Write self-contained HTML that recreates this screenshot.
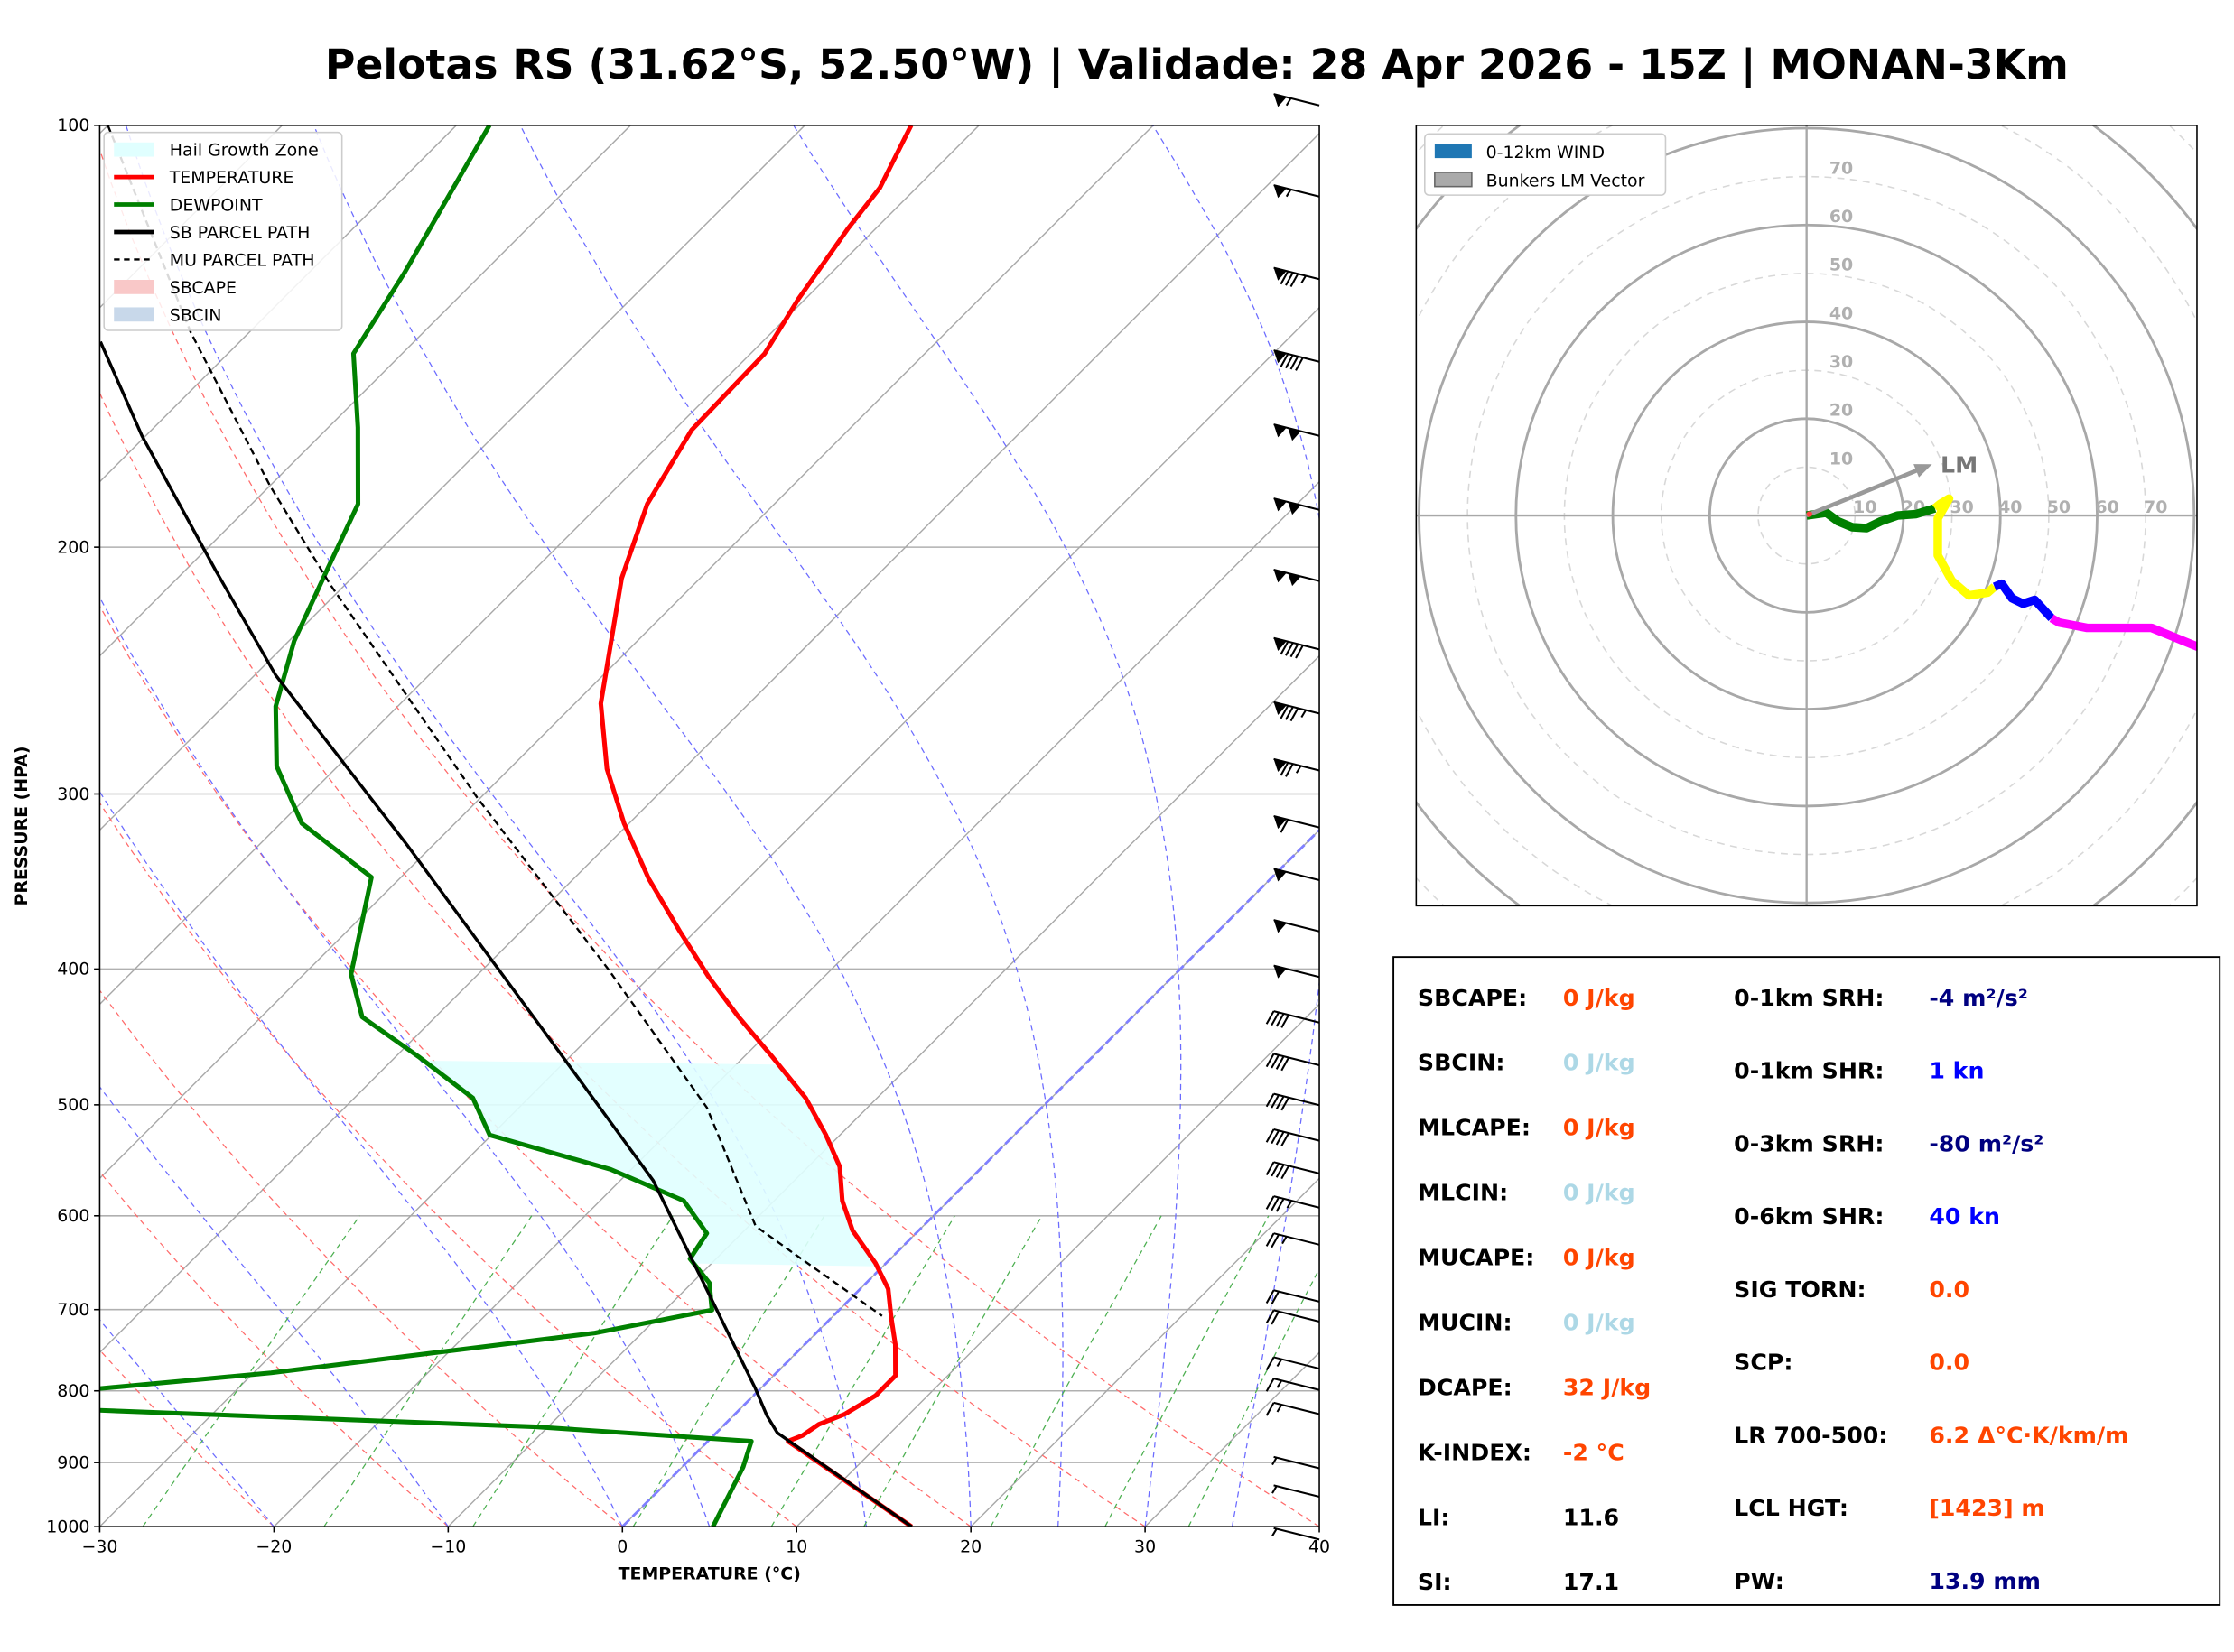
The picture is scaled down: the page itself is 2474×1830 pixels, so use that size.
<!DOCTYPE html>
<html><head><meta charset="utf-8"><style>
html,body{margin:0;padding:0;background:#fff;}
svg{display:block;font-family:"DejaVu Sans","Liberation Sans",sans-serif;}
</style></head><body>
<svg id="fig" width="2474" height="1830" viewBox="0 0 1568 1160" preserveAspectRatio="none" xmlns="http://www.w3.org/2000/svg">
<defs>
<clipPath id="skewclip"><rect x="70" y="88" width="856" height="984"/></clipPath>
<clipPath id="hodoclip"><rect x="994" y="88" width="548" height="548"/></clipPath>
</defs>
<rect x="0" y="0" width="1568" height="1160" fill="#fff"/>
<text x="840" y="55" text-anchor="middle" font-size="29" font-weight="bold">Pelotas RS (31.62°S, 52.50°W) | Validade: 28 Apr 2026 - 15Z | MONAN-3Km</text>
<g id="skew"></g>
<g id="hodo"></g>
<g id="stats"></g>
</svg>
<script>
// ---------- data ----------
const tempP=[100,110.8,118.4,133,145.5,165,186.3,210.5,258.6,287.9,314.8,344.8,375.9,405.3,432.8,461.9,494.4,525.5,553.4,585.3,614.6,648.6,676.5,708.9,741.2,780.3,806.3,831.3,845.1,861,869,1000];
const tempT=[-63.9,-62.1,-61.6,-60.4,-59.2,-59.0,-57.3,-54.5,-48.5,-44.4,-40.3,-35.7,-30.9,-26.6,-22.6,-18.4,-14.1,-10.8,-8.2,-6.1,-3.8,-0.6,1.6,3.4,5.2,7.0,7.0,6.3,5.4,5.1,4.6,16.6];
const dewP=[100,127.5,145.5,164.3,186.3,207.5,233.3,259.8,286.7,314.8,344,403.4,432.8,461.9,494.4,525.5,555.9,585.3,617.5,644,670,700.5,727.5,776.6,796.9,810.8,848.8,869,906.6,1000];
const dewT=[-88.1,-84.5,-82.8,-78.3,-73.9,-71.9,-69.7,-67.0,-63.5,-58.8,-51.7,-47.3,-44.2,-38.7,-33.2,-30.1,-21.2,-15.2,-12.0,-11.5,-9.0,-7.3,-12.7,-29.0,-37.9,-54.4,-10.7,2.5,3.5,5.2];
const sbP=[142.7,166.6,208,246.8,326.8,459.8,566.3,796.9,833,857,1000];
const sbT=[-98.0,-90.2,-78.2,-68.8,-51.4,-30.7,-18.1,-0.3,1.9,3.5,16.6];
const muP=[100,140.4,180.8,212.9,301.8,399.6,502.4,610.4,638,707.3];
const muT=[-110,-93.4,-80.0,-70.8,-50.2,-32.9,-19.2,-9.6,-5.9,2.8];
const hgzTop=465, hgzBot=652;
const barbY=[68,132,190,248,300,352,402,450,495,535,575,612,648,680,712,742,770,795,818,842,868,908,922,955,970,987,1025,1045,1075];
const barbSpd=[55,55,85,90,100,100,100,90,85,75,60,50,50,50,40,40,40,40,40,35,25,20,20,15,15,15,5,5,5];
// hodograph (knots)
const hodoGreenU=[0,4.1,6.5,9.4,12.4,15.3,18.8,22.6,26.5];
const hodoGreenV=[0,0.6,-1.2,-2.4,-2.6,-1.2,0,0.3,1.5];
const hodoYellowU=[26.5,27.6,29.4,27.1,27.1,30,33.5,37.4,38.8];
const hodoYellowV=[1.5,2.4,3.5,-0.6,-8.2,-13.5,-16.5,-15.9,-14.7];
const hodoBlueU=[38.8,40.3,42.4,44.7,47.1,50.6];
const hodoBlueV=[-14.7,-14.1,-17.1,-18.2,-17.4,-21.2];
const hodoMagU=[50.6,52.1,57.9,71.2,81.5];
const hodoMagV=[-21.2,-22.1,-23.2,-23.2,-27.4];
const lmU=25.9, lmV=10.6;
const pTicks=[100,200,300,400,500,600,700,800,900,1000];
const tTicks=[-30,-20,-10,0,10,20,30,40];

// ---------- helpers ----------
const NS="http://www.w3.org/2000/svg";
function mk(parent,tag,attrs){const e=document.createElementNS(NS,tag);for(const k in attrs)e.setAttribute(k,attrs[k]);parent.appendChild(e);return e;}
const X0=70,X1=926,Y0=88,Y1=1072,PX=856/70;
function py(p){return Y0+(Y1-Y0)*Math.log10(p/100);}
function tx(T,p){return X0+(T+30)*PX+(Y1-py(p));}
function pathTP(Ts,Ps){return Ts.map((t,i)=>(i?"L":"M")+tx(t,Ps[i]).toFixed(1)+","+py(Ps[i]).toFixed(1)).join("");}
function interp(Ps,Ts,p){for(let i=0;i<Ps.length-1;i++){if(p>=Ps[i]&&p<=Ps[i+1]){const f=(Math.log(p)-Math.log(Ps[i]))/(Math.log(Ps[i+1])-Math.log(Ps[i]));return Ts[i]+f*(Ts[i+1]-Ts[i]);}}return Ts[Ts.length-1];}

const skew=document.getElementById('skew');
const bg=mk(skew,'g',{'clip-path':'url(#skewclip)'});


pTicks.forEach(p=>{const l=mk(bg,'line',{x1:X0,x2:X1,y1:py(p),y2:py(p),stroke:'#b0b0b0','stroke-width':1});

});
for(let T=-130;T<=40;T+=10){const l=mk(bg,'line',{x1:tx(T,1000),y1:py(1000),x2:tx(T,100),y2:py(100),stroke:'#a8a8a8','stroke-width':0.9});

}
const plev=[];for(let p=1000;p>=100;p-=10)plev.push(p);
for(let t0=-30;t0<=40;t0+=10){const th=t0+273.15;const Ts=plev.map(p=>th*Math.pow(p/1000,0.2857)-273.15);
const e=mk(bg,'path',{d:pathTP(Ts,plev),fill:'none',stroke:'#ff6b6b','stroke-width':0.8,'stroke-dasharray':'4,3'});

}
function moist(t0){let T=t0+273.15;const Ts=[],Ps=[];for(let p=1000;p>=100;p-=5){Ts.push(T-273.15);Ps.push(p);
const es=6.112*Math.exp(17.67*(T-273.15)/(T-29.65));const rs=0.622*es/(p-es);
const dTdp=(287*T+2.501e6*rs)/(1005+2.501e6*2.501e6*rs*0.622/(287*T*T))/p;T-=dTdp*5;}return [Ts,Ps];}
[-20,-10,0,5,14,20,25,30,35].forEach(t0=>{const r=moist(t0);
const e=mk(bg,'path',{d:pathTP(r[0],r[1]),fill:'none',stroke:'#6b6bff','stroke-width':0.8,'stroke-dasharray':'4,3'});

});
[0.0004,0.001,0.002,0.004,0.007,0.01,0.016,0.024,0.032].forEach(w=>{const Ps=[1000,900,800,700,600];
const Ts=Ps.map(p=>{const e=w*p/(0.622+w);const l=Math.log(e/6.112);return 243.5*l/(17.67-l);});
const e=mk(bg,'path',{d:pathTP(Ts,Ps),fill:'none',stroke:'#4caf50','stroke-width':0.8,'stroke-dasharray':'4,3'});

});
const z=mk(bg,'line',{x1:tx(0,1000),y1:py(1000),x2:tx(0,100),y2:py(100),stroke:'#8080ff','stroke-width':1.8,'stroke-dasharray':'7,3'});



const fg=mk(skew,'g',{'clip-path':'url(#skewclip)'});
let hpts=[];for(let p=hgzTop;p<=hgzBot;p+=4){hpts.push([tx(interp(dewP,dewT,p),p),py(p)]);}
for(let p=hgzBot;p>=hgzTop;p-=4){hpts.push([tx(interp(tempP,tempT,p),p),py(p)]);}
const hg=mk(fg,'polygon',{points:hpts.map(a=>a[0].toFixed(1)+","+a[1].toFixed(1)).join(" "),fill:'#e0ffff',opacity:0.9});


const tl=mk(fg,'path',{d:pathTP(tempT,tempP),fill:'none',stroke:'#ff0000','stroke-width':3.2,'stroke-linejoin':'round'});


const dl=mk(fg,'path',{d:pathTP(dewT,dewP),fill:'none',stroke:'#008000','stroke-width':3.2,'stroke-linejoin':'round'});


const sl=mk(fg,'path',{d:pathTP(sbT,sbP),fill:'none',stroke:'#000','stroke-width':2.2,'stroke-linejoin':'round'});


const ml=mk(fg,'path',{d:pathTP(muT,muP),fill:'none',stroke:'#000','stroke-width':1.5,'stroke-dasharray':'5,3','stroke-linejoin':'round'});



const fr=mk(skew,'rect',{x:X0,y:Y0,width:X1-X0,height:Y1-Y0,fill:'none',stroke:'#000','stroke-width':1});


pTicks.forEach(p=>{mk(skew,'line',{x1:X0-4,x2:X0,y1:py(p),y2:py(p),stroke:'#000'});
const t=mk(skew,'text',{x:X0-7,y:py(p)+4,'text-anchor':'end','font-size':12});t.textContent=p;

});
tTicks.forEach(T=>{const x=X0+(T+30)*PX;mk(skew,'line',{x1:x,x2:x,y1:Y1,y2:Y1+4,stroke:'#000'});
const t=mk(skew,'text',{x:x,y:Y1+18,'text-anchor':'middle','font-size':12});t.textContent=(T<0?'\u2212'+(-T):T);

});
let t=mk(skew,'text',{x:498,y:1109,'text-anchor':'middle','font-size':12,'font-weight':'bold'});t.textContent='TEMPERATURE (°C)';


t=mk(skew,'text',{x:19,y:580,'text-anchor':'middle','font-size':12,'font-weight':'bold',transform:'rotate(-90 19 580)'});t.textContent='PRESSURE (HPA)';



barbY.forEach((y,i)=>{const g=mk(skew,'g',{});


const x0=926,y0=y+6,x1=894,y1=y-2;
mk(g,'line',{x1:x0,y1:y0,x2:x1,y2:y1,stroke:'#000','stroke-width':1.3});
let s=barbSpd[i];let pos=0;const dx=(x0-x1)/32,dy=(y0-y1)/32;
while(s>=50){const ax=x1+dx*pos,ay=y1+dy*pos;mk(g,'polygon',{points:`${ax},${ay} ${ax+dx*9},${ay+dy*9} ${ax+3},${ay+9}`,fill:'#000'});pos+=10;s-=50;}
while(s>=10){const ax=x1+dx*pos,ay=y1+dy*pos;mk(g,'line',{x1:ax,y1:ay,x2:ax-5,y2:ay+9,stroke:'#000','stroke-width':1.3});pos+=3.5;s-=10;}
if(s>=5){const ax=x1+dx*(pos+2),ay=y1+dy*(pos+2);mk(g,'line',{x1:ax,y1:ay,x2:ax-3,y2:ay+5,stroke:'#000','stroke-width':1.3});}
});

const lg=mk(skew,'g',{});


mk(lg,'rect',{x:73,y:93,width:167,height:139,fill:'#fff','fill-opacity':0.85,stroke:'#ccc',rx:3});
const leg=[['Hail Growth Zone','patch','#e0ffff'],['TEMPERATURE','line','#ff0000'],['DEWPOINT','line','#008000'],['SB PARCEL PATH','line','#000'],['MU PARCEL PATH','dash','#000'],['SBCAPE','patch','#f9c8c8'],['SBCIN','patch','#c8d8ea']];
leg.forEach((e,i)=>{const y=105+i*19.3;const g=mk(lg,'g',{});


if(e[1]=='patch')mk(g,'rect',{x:80,y:y-5,width:28,height:10,fill:e[2]});
else mk(g,'line',{x1:80,x2:108,y1:y,y2:y,stroke:e[2],'stroke-width':e[1]=='dash'?1.5:3,'stroke-dasharray':e[1]=='dash'?'4,3':'none'});
const tt=mk(g,'text',{x:119,y:y+4.5,'font-size':12});tt.textContent=e[0];});

// ---------- hodograph ----------
const hodo=document.getElementById('hodo');
const HX=1268,HY=362,HK=3.4;
const hg2=mk(hodo,'g',{'clip-path':'url(#hodoclip)'});
for(let k=10;k<=160;k+=10){const solid=k%20==0;const c=mk(hg2,'circle',{cx:HX,cy:HY,r:k*HK,fill:'none',stroke:solid?'#a8a8a8':'#d8d8d8','stroke-width':solid?1.8:1,'stroke-dasharray':solid?'none':'5,4'});

}
mk(hg2,'line',{x1:994,x2:1542,y1:HY,y2:HY,stroke:'#a8a8a8','stroke-width':1.5});
mk(hg2,'line',{x1:HX,x2:HX,y1:88,y2:636,stroke:'#a8a8a8','stroke-width':1.5});
for(let k=10;k<=70;k+=10){let a=mk(hg2,'text',{x:HX+k*HK+7,y:HY-2,'text-anchor':'middle','font-size':12,'font-weight':'bold',fill:'#b0b0b0'});a.textContent=k;


a=mk(hg2,'text',{x:HX+16,y:HY-k*HK-2,'font-size':12,'font-weight':'bold',fill:'#b0b0b0'});a.textContent=k;

}
function hpath(U,V){return U.map((u,i)=>(i?"L":"M")+(HX+u*HK).toFixed(1)+","+(HY-V[i]*HK).toFixed(1)).join("");}
[[hodoGreenU,hodoGreenV,'#008000','hodo-0-3km'],[hodoYellowU,hodoYellowV,'#ffff00','hodo-3-6km'],[hodoBlueU,hodoBlueV,'#0000ff','hodo-6-9km'],[hodoMagU,hodoMagV,'#ff00ff','hodo-9-12km']].forEach(s=>{
const e=mk(hg2,'path',{d:hpath(s[0],s[1]),fill:'none',stroke:s[2],'stroke-width':6,'stroke-linejoin':'round'});

});
const ax=HX+lmU*HK,ay=HY-lmV*HK;
const ar=mk(hg2,'g',{});


const ang=Math.atan2(ay-HY,ax-HX);
mk(ar,'line',{x1:HX,y1:HY,x2:ax-10*Math.cos(ang),y2:ay-10*Math.sin(ang),stroke:'#999','stroke-width':3});
mk(ar,'polygon',{points:`${ax},${ay} ${ax-12*Math.cos(ang)+5*Math.sin(ang)},${ay-12*Math.sin(ang)-5*Math.cos(ang)} ${ax-12*Math.cos(ang)-5*Math.sin(ang)},${ay-12*Math.sin(ang)+5*Math.cos(ang)}`,fill:'#999'});
t=mk(ar,'text',{x:ax+6,y:ay+6,'font-size':16,'font-weight':'bold',fill:'#777'});t.textContent='LM';
mk(hg2,'circle',{cx:HX+2,cy:HY-1,r:2,fill:'#ff4444'});
const hf=mk(hodo,'rect',{x:994,y:88,width:548,height:548,fill:'none',stroke:'#000','stroke-width':1});


const hl=mk(hodo,'g',{});


mk(hl,'rect',{x:1000,y:94,width:169,height:43,fill:'#fff',stroke:'#ccc',rx:3});
mk(hl,'rect',{x:1007,y:101,width:26,height:10,fill:'#1f77b4'});
mk(hl,'rect',{x:1007,y:121,width:26,height:10,fill:'#aaa',stroke:'#666'});
t=mk(hl,'text',{x:1043,y:111,'font-size':12});t.textContent='0-12km WIND';
t=mk(hl,'text',{x:1043,y:131,'font-size':12});t.textContent='Bunkers LM Vector';

// ---------- stats ----------
const st=document.getElementById('stats');
mk(st,'rect',{x:978,y:672,width:580,height:455,fill:'#fff',stroke:'#000','stroke-width':1.2});
const left=[['SBCAPE:','0 J/kg','#ff4500'],['SBCIN:','0 J/kg','#add8e6'],['MLCAPE:','0 J/kg','#ff4500'],['MLCIN:','0 J/kg','#add8e6'],['MUCAPE:','0 J/kg','#ff4500'],['MUCIN:','0 J/kg','#add8e6'],['DCAPE:','32 J/kg','#ff4500'],['K-INDEX:','-2 °C','#ff4500'],['LI:','11.6','#000'],['SI:','17.1','#000']];
const right=[['0-1km SRH:','-4 m²/s²','#000080'],['0-1km SHR:','1 kn','#0000ff'],['0-3km SRH:','-80 m²/s²','#000080'],['0-6km SHR:','40 kn','#0000ff'],['SIG TORN:','0.0','#ff4500'],['SCP:','0.0','#ff4500'],['LR 700-500:','6.2 Δ°C·K/km/m','#ff4500'],['LCL HGT:','[1423] m','#ff4500'],['PW:','13.9 mm','#000080']];
left.forEach((r,i)=>{const y=706+i*45.6;let a=mk(st,'text',{x:995,y:y,'font-size':16,'font-weight':'bold'});a.textContent=r[0];


a=mk(st,'text',{x:1097,y:y,'font-size':16,'font-weight':'bold',fill:r[2]});a.textContent=r[1];

});
right.forEach((r,i)=>{const y=706+i*51.2;let a=mk(st,'text',{x:1217,y:y,'font-size':16,'font-weight':'bold'});a.textContent=r[0];


a=mk(st,'text',{x:1354,y:y,'font-size':16,'font-weight':'bold',fill:r[2]});a.textContent=r[1];

});
</script>
</body></html>
